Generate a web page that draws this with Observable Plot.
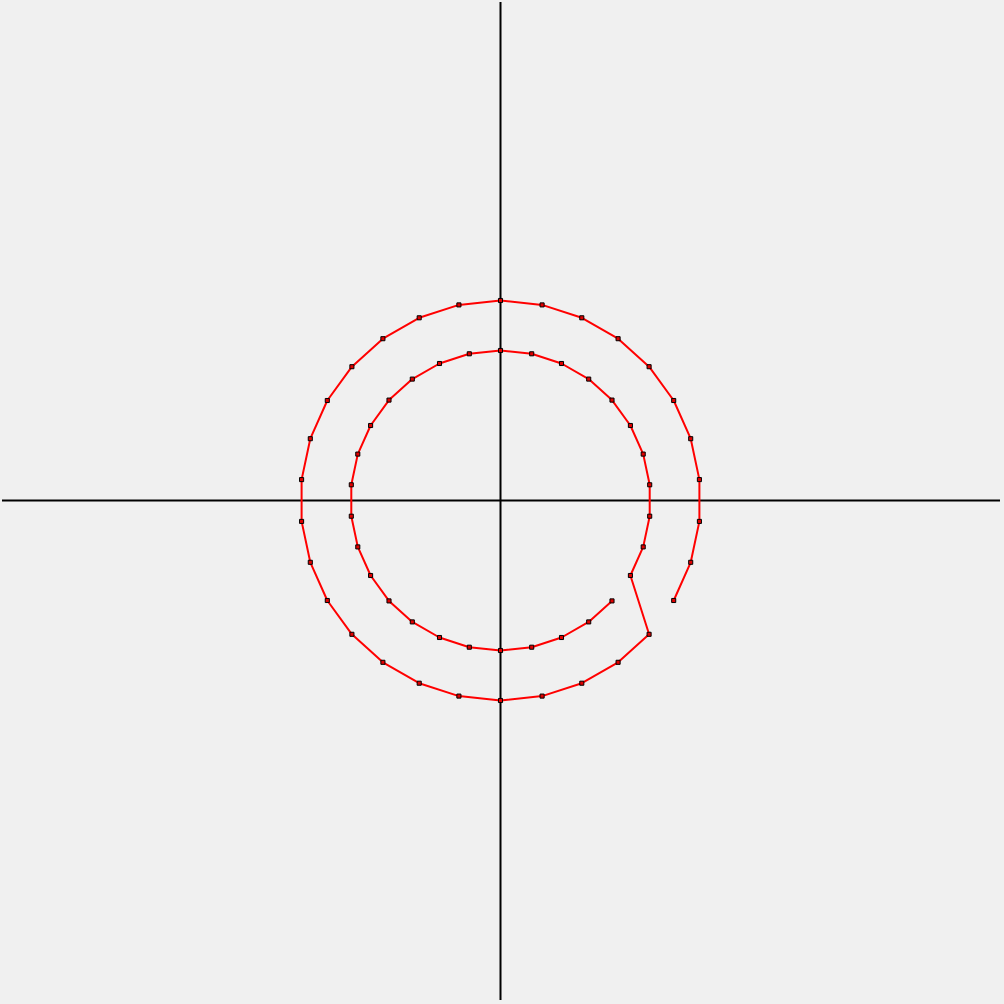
<!DOCTYPE html>
<html>
<head>
<meta charset="utf-8">
<script src="https://cdn.jsdelivr.net/npm/d3@7"></script>
<script src="https://cdn.jsdelivr.net/npm/@observablehq/plot@0.6"></script>
<style>
  html, body { margin: 0; padding: 0; background: #f0f0f0; }
  #chart svg { display: block; background: #f0f0f0; }
</style>
</head>
<body>
<div id="chart"></div>
<script>
// Outer ring (radius ~2), in path order
const outerX = [1.732, 1.902, 1.989, 1.989, 1.902, 1.732, 1.486, 1.176, 0.813, 0.416, 0, -0.416, -0.813, -1.176, -1.486, -1.732, -1.902, -1.989, -1.989, -1.902, -1.732, -1.486, -1.176, -0.813, -0.416, 0, 0.416, 0.813, 1.176, 1.486];
const outerY = [-1.0, -0.618, -0.209, 0.209, 0.618, 1.0, 1.338, 1.618, 1.827, 1.956, 2, 1.956, 1.827, 1.618, 1.338, 1.0, 0.618, 0.209, -0.209, -0.618, -1.0, -1.338, -1.618, -1.827, -1.956, -2, -1.956, -1.827, -1.618, -1.338];
// Inner ring (radius ~1.5), continues the same path
const innerX = [1.299, 1.427, 1.492, 1.492, 1.427, 1.299, 1.115, 0.882, 0.610, 0.312, 0, -0.312, -0.610, -0.882, -1.115, -1.299, -1.427, -1.492, -1.492, -1.427, -1.299, -1.115, -0.882, -0.610, -0.312, 0, 0.312, 0.610, 0.882, 1.115];
const innerY = [-0.75, -0.464, -0.157, 0.157, 0.464, 0.75, 1.004, 1.214, 1.370, 1.467, 1.5, 1.467, 1.370, 1.214, 1.004, 0.75, 0.464, 0.157, -0.157, -0.464, -0.75, -1.004, -1.214, -1.370, -1.467, -1.5, -1.467, -1.370, -1.214, -1.004];

const pts = [];
outerX.forEach((x, i) => pts.push({x, y: outerY[i]}));
innerX.forEach((x, i) => pts.push({x, y: innerY[i]}));

const chart = Plot.plot({
  width: 1004,
  height: 1004,
  marginLeft: 0,
  marginRight: 4,
  marginTop: 0,
  marginBottom: 4,
  style: {background: "#f0f0f0"},
  x: {domain: [-5, 5], axis: null},
  y: {domain: [-5, 5], axis: null},
  marks: [
    Plot.ruleX([0], {y1: -5, y2: 4.98, stroke: "black", strokeWidth: 2}),
    Plot.ruleY([0], {x1: -4.98, x2: 5, stroke: "black", strokeWidth: 2}),
    Plot.line(pts, {x: "x", y: "y", stroke: "#ff0000", strokeWidth: 2, curve: "linear"}),
    Plot.dot(pts, {x: "x", y: "y", symbol: "square", r: 2.3, fill: "#e00000", stroke: "black", strokeWidth: 1})
  ]
});
document.getElementById("chart").appendChild(chart);
</script>
</body>
</html>
